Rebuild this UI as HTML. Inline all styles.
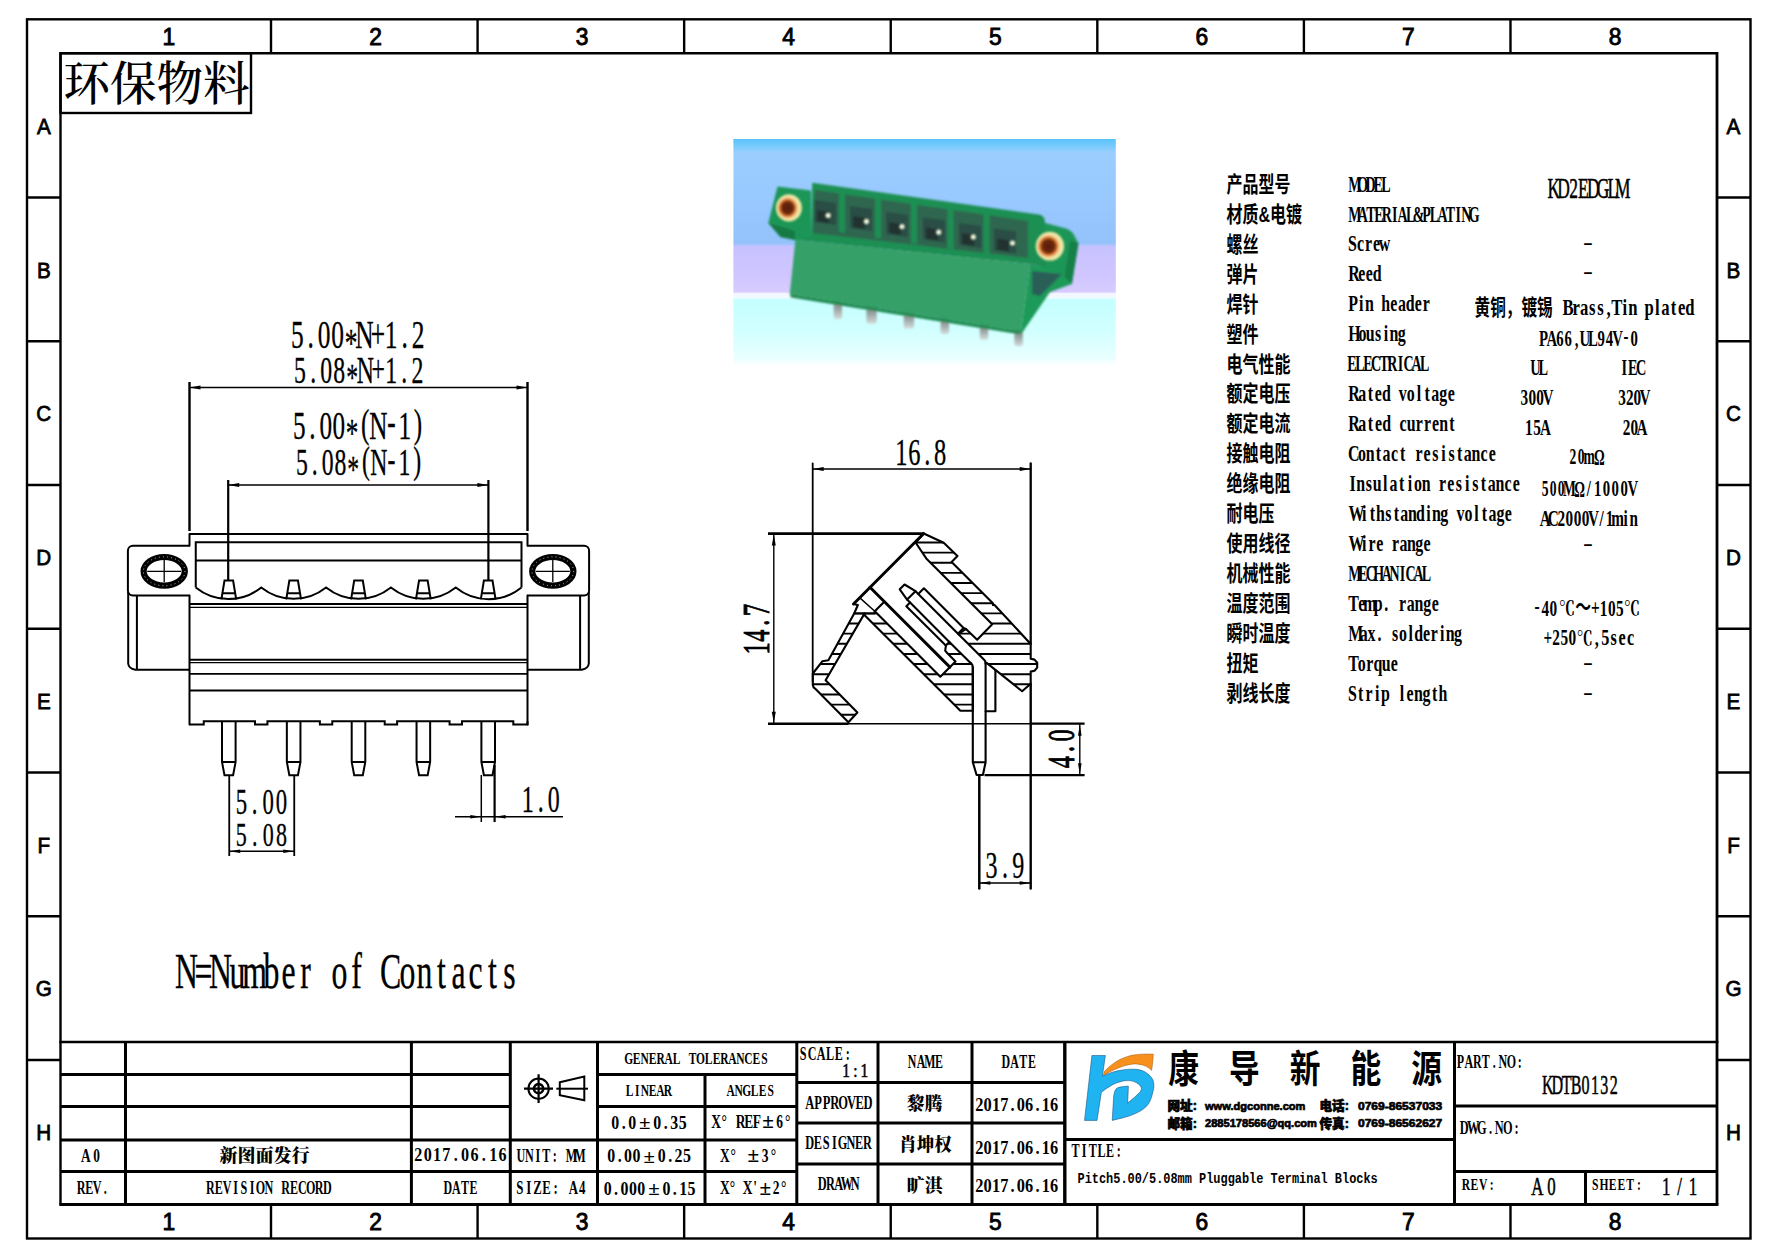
<!DOCTYPE html>
<html lang="zh"><head><meta charset="utf-8"><title>KDTB0132 KD2EDGLM</title>
<style>
html,body{margin:0;padding:0;background:#fff;}
body{width:1778px;height:1257px;overflow:hidden;}
svg{display:block;}
text{white-space:pre;}
</style></head><body>
<svg width="1778" height="1257" viewBox="0 0 1778 1257">
<rect x="0" y="0" width="1778" height="1257" fill="#fff"/>
<g id="frame">
<rect x="27" y="19.3" width="1723.5" height="1219.2" fill="none" stroke="#000" stroke-width="2.4"/>
<line x1="60.50" y1="53.20" x2="1717.00" y2="53.20" stroke="#000" stroke-width="2.6" />
<line x1="60.50" y1="52.00" x2="60.50" y2="1204.50" stroke="#000" stroke-width="2.4" />
<line x1="1717.00" y1="52.00" x2="1717.00" y2="1204.50" stroke="#000" stroke-width="2.8" />
<line x1="59.30" y1="1204.50" x2="1718.40" y2="1204.50" stroke="#000" stroke-width="3" />
<line x1="271.00" y1="19.30" x2="271.00" y2="53.20" stroke="#000" stroke-width="2.4" />
<line x1="271.00" y1="1204.50" x2="271.00" y2="1238.50" stroke="#000" stroke-width="2.4" />
<line x1="477.58" y1="19.30" x2="477.58" y2="53.20" stroke="#000" stroke-width="2.4" />
<line x1="477.58" y1="1204.50" x2="477.58" y2="1238.50" stroke="#000" stroke-width="2.4" />
<line x1="684.16" y1="19.30" x2="684.16" y2="53.20" stroke="#000" stroke-width="2.4" />
<line x1="684.16" y1="1204.50" x2="684.16" y2="1238.50" stroke="#000" stroke-width="2.4" />
<line x1="890.74" y1="19.30" x2="890.74" y2="53.20" stroke="#000" stroke-width="2.4" />
<line x1="890.74" y1="1204.50" x2="890.74" y2="1238.50" stroke="#000" stroke-width="2.4" />
<line x1="1097.32" y1="19.30" x2="1097.32" y2="53.20" stroke="#000" stroke-width="2.4" />
<line x1="1097.32" y1="1204.50" x2="1097.32" y2="1238.50" stroke="#000" stroke-width="2.4" />
<line x1="1303.90" y1="19.30" x2="1303.90" y2="53.20" stroke="#000" stroke-width="2.4" />
<line x1="1303.90" y1="1204.50" x2="1303.90" y2="1238.50" stroke="#000" stroke-width="2.4" />
<line x1="1510.48" y1="19.30" x2="1510.48" y2="53.20" stroke="#000" stroke-width="2.4" />
<line x1="1510.48" y1="1204.50" x2="1510.48" y2="1238.50" stroke="#000" stroke-width="2.4" />
<line x1="27.00" y1="197.50" x2="60.50" y2="197.50" stroke="#000" stroke-width="2.4" />
<line x1="1717.00" y1="197.50" x2="1750.50" y2="197.50" stroke="#000" stroke-width="2.4" />
<line x1="27.00" y1="341.25" x2="60.50" y2="341.25" stroke="#000" stroke-width="2.4" />
<line x1="1717.00" y1="341.25" x2="1750.50" y2="341.25" stroke="#000" stroke-width="2.4" />
<line x1="27.00" y1="485.00" x2="60.50" y2="485.00" stroke="#000" stroke-width="2.4" />
<line x1="1717.00" y1="485.00" x2="1750.50" y2="485.00" stroke="#000" stroke-width="2.4" />
<line x1="27.00" y1="628.75" x2="60.50" y2="628.75" stroke="#000" stroke-width="2.4" />
<line x1="1717.00" y1="628.75" x2="1750.50" y2="628.75" stroke="#000" stroke-width="2.4" />
<line x1="27.00" y1="772.50" x2="60.50" y2="772.50" stroke="#000" stroke-width="2.4" />
<line x1="1717.00" y1="772.50" x2="1750.50" y2="772.50" stroke="#000" stroke-width="2.4" />
<line x1="27.00" y1="916.25" x2="60.50" y2="916.25" stroke="#000" stroke-width="2.4" />
<line x1="1717.00" y1="916.25" x2="1750.50" y2="916.25" stroke="#000" stroke-width="2.4" />
<line x1="27.00" y1="1060.00" x2="60.50" y2="1060.00" stroke="#000" stroke-width="2.4" />
<line x1="1717.00" y1="1060.00" x2="1750.50" y2="1060.00" stroke="#000" stroke-width="2.4" />
<text transform="translate(168.92,45.20) scale(0.9700,1)" font-family='"Liberation Sans", sans-serif' font-size="23.50" font-weight="normal" fill="#000" text-anchor="middle" stroke="#000" stroke-width="0.9">1</text>
<text transform="translate(168.92,1230.20) scale(0.9700,1)" font-family='"Liberation Sans", sans-serif' font-size="23.50" font-weight="normal" fill="#000" text-anchor="middle" stroke="#000" stroke-width="0.9">1</text>
<text transform="translate(375.50,45.20) scale(0.9700,1)" font-family='"Liberation Sans", sans-serif' font-size="23.50" font-weight="normal" fill="#000" text-anchor="middle" stroke="#000" stroke-width="0.9">2</text>
<text transform="translate(375.50,1230.20) scale(0.9700,1)" font-family='"Liberation Sans", sans-serif' font-size="23.50" font-weight="normal" fill="#000" text-anchor="middle" stroke="#000" stroke-width="0.9">2</text>
<text transform="translate(582.08,45.20) scale(0.9700,1)" font-family='"Liberation Sans", sans-serif' font-size="23.50" font-weight="normal" fill="#000" text-anchor="middle" stroke="#000" stroke-width="0.9">3</text>
<text transform="translate(582.08,1230.20) scale(0.9700,1)" font-family='"Liberation Sans", sans-serif' font-size="23.50" font-weight="normal" fill="#000" text-anchor="middle" stroke="#000" stroke-width="0.9">3</text>
<text transform="translate(788.66,45.20) scale(0.9700,1)" font-family='"Liberation Sans", sans-serif' font-size="23.50" font-weight="normal" fill="#000" text-anchor="middle" stroke="#000" stroke-width="0.9">4</text>
<text transform="translate(788.66,1230.20) scale(0.9700,1)" font-family='"Liberation Sans", sans-serif' font-size="23.50" font-weight="normal" fill="#000" text-anchor="middle" stroke="#000" stroke-width="0.9">4</text>
<text transform="translate(995.24,45.20) scale(0.9700,1)" font-family='"Liberation Sans", sans-serif' font-size="23.50" font-weight="normal" fill="#000" text-anchor="middle" stroke="#000" stroke-width="0.9">5</text>
<text transform="translate(995.24,1230.20) scale(0.9700,1)" font-family='"Liberation Sans", sans-serif' font-size="23.50" font-weight="normal" fill="#000" text-anchor="middle" stroke="#000" stroke-width="0.9">5</text>
<text transform="translate(1201.82,45.20) scale(0.9700,1)" font-family='"Liberation Sans", sans-serif' font-size="23.50" font-weight="normal" fill="#000" text-anchor="middle" stroke="#000" stroke-width="0.9">6</text>
<text transform="translate(1201.82,1230.20) scale(0.9700,1)" font-family='"Liberation Sans", sans-serif' font-size="23.50" font-weight="normal" fill="#000" text-anchor="middle" stroke="#000" stroke-width="0.9">6</text>
<text transform="translate(1408.40,45.20) scale(0.9700,1)" font-family='"Liberation Sans", sans-serif' font-size="23.50" font-weight="normal" fill="#000" text-anchor="middle" stroke="#000" stroke-width="0.9">7</text>
<text transform="translate(1408.40,1230.20) scale(0.9700,1)" font-family='"Liberation Sans", sans-serif' font-size="23.50" font-weight="normal" fill="#000" text-anchor="middle" stroke="#000" stroke-width="0.9">7</text>
<text transform="translate(1614.98,45.20) scale(0.9700,1)" font-family='"Liberation Sans", sans-serif' font-size="23.50" font-weight="normal" fill="#000" text-anchor="middle" stroke="#000" stroke-width="0.9">8</text>
<text transform="translate(1614.98,1230.20) scale(0.9700,1)" font-family='"Liberation Sans", sans-serif' font-size="23.50" font-weight="normal" fill="#000" text-anchor="middle" stroke="#000" stroke-width="0.9">8</text>
<text transform="translate(43.80,133.85) scale(0.9200,1)" font-family='"Liberation Sans", sans-serif' font-size="22.50" font-weight="normal" fill="#000" text-anchor="middle" stroke="#000" stroke-width="0.8">A</text>
<text transform="translate(1733.50,133.85) scale(0.9200,1)" font-family='"Liberation Sans", sans-serif' font-size="22.50" font-weight="normal" fill="#000" text-anchor="middle" stroke="#000" stroke-width="0.8">A</text>
<text transform="translate(43.80,277.60) scale(0.9200,1)" font-family='"Liberation Sans", sans-serif' font-size="22.50" font-weight="normal" fill="#000" text-anchor="middle" stroke="#000" stroke-width="0.8">B</text>
<text transform="translate(1733.50,277.60) scale(0.9200,1)" font-family='"Liberation Sans", sans-serif' font-size="22.50" font-weight="normal" fill="#000" text-anchor="middle" stroke="#000" stroke-width="0.8">B</text>
<text transform="translate(43.80,421.35) scale(0.9200,1)" font-family='"Liberation Sans", sans-serif' font-size="22.50" font-weight="normal" fill="#000" text-anchor="middle" stroke="#000" stroke-width="0.8">C</text>
<text transform="translate(1733.50,421.35) scale(0.9200,1)" font-family='"Liberation Sans", sans-serif' font-size="22.50" font-weight="normal" fill="#000" text-anchor="middle" stroke="#000" stroke-width="0.8">C</text>
<text transform="translate(43.80,565.10) scale(0.9200,1)" font-family='"Liberation Sans", sans-serif' font-size="22.50" font-weight="normal" fill="#000" text-anchor="middle" stroke="#000" stroke-width="0.8">D</text>
<text transform="translate(1733.50,565.10) scale(0.9200,1)" font-family='"Liberation Sans", sans-serif' font-size="22.50" font-weight="normal" fill="#000" text-anchor="middle" stroke="#000" stroke-width="0.8">D</text>
<text transform="translate(43.80,708.85) scale(0.9200,1)" font-family='"Liberation Sans", sans-serif' font-size="22.50" font-weight="normal" fill="#000" text-anchor="middle" stroke="#000" stroke-width="0.8">E</text>
<text transform="translate(1733.50,708.85) scale(0.9200,1)" font-family='"Liberation Sans", sans-serif' font-size="22.50" font-weight="normal" fill="#000" text-anchor="middle" stroke="#000" stroke-width="0.8">E</text>
<text transform="translate(43.80,852.60) scale(0.9200,1)" font-family='"Liberation Sans", sans-serif' font-size="22.50" font-weight="normal" fill="#000" text-anchor="middle" stroke="#000" stroke-width="0.8">F</text>
<text transform="translate(1733.50,852.60) scale(0.9200,1)" font-family='"Liberation Sans", sans-serif' font-size="22.50" font-weight="normal" fill="#000" text-anchor="middle" stroke="#000" stroke-width="0.8">F</text>
<text transform="translate(43.80,996.35) scale(0.9200,1)" font-family='"Liberation Sans", sans-serif' font-size="22.50" font-weight="normal" fill="#000" text-anchor="middle" stroke="#000" stroke-width="0.8">G</text>
<text transform="translate(1733.50,996.35) scale(0.9200,1)" font-family='"Liberation Sans", sans-serif' font-size="22.50" font-weight="normal" fill="#000" text-anchor="middle" stroke="#000" stroke-width="0.8">G</text>
<text transform="translate(43.80,1140.10) scale(0.9200,1)" font-family='"Liberation Sans", sans-serif' font-size="22.50" font-weight="normal" fill="#000" text-anchor="middle" stroke="#000" stroke-width="0.8">H</text>
<text transform="translate(1733.50,1140.10) scale(0.9200,1)" font-family='"Liberation Sans", sans-serif' font-size="22.50" font-weight="normal" fill="#000" text-anchor="middle" stroke="#000" stroke-width="0.8">H</text>
</g>
<rect x="60.5" y="53.2" width="190.5" height="59.8" fill="none" stroke="#000" stroke-width="2.4"/>
<text transform="translate(63.50,99.50) scale(1.0000,1)" font-family='"Liberation Serif", "Noto Serif CJK SC", serif' font-size="46.50" font-weight="500" fill="#000" text-anchor="start" >环保物料</text>
<g id="titleblock">
<line x1="59.30" y1="1042.00" x2="1718.40" y2="1042.00" stroke="#000" stroke-width="2.6" />
<line x1="60.50" y1="1074.50" x2="510.30" y2="1074.50" stroke="#000" stroke-width="3" />
<line x1="597.50" y1="1074.50" x2="797.00" y2="1074.50" stroke="#000" stroke-width="3" />
<line x1="60.50" y1="1106.50" x2="510.30" y2="1106.50" stroke="#000" stroke-width="3" />
<line x1="597.50" y1="1106.50" x2="797.00" y2="1106.50" stroke="#000" stroke-width="3" />
<line x1="60.50" y1="1140.00" x2="797.00" y2="1140.00" stroke="#000" stroke-width="3" />
<line x1="60.50" y1="1171.50" x2="797.00" y2="1171.50" stroke="#000" stroke-width="3" />
<line x1="125.50" y1="1042.00" x2="125.50" y2="1204.50" stroke="#000" stroke-width="3" />
<line x1="411.40" y1="1042.00" x2="411.40" y2="1204.50" stroke="#000" stroke-width="3" />
<line x1="510.30" y1="1042.00" x2="510.30" y2="1204.50" stroke="#000" stroke-width="3" />
<line x1="597.50" y1="1042.00" x2="597.50" y2="1204.50" stroke="#000" stroke-width="3" />
<line x1="705.00" y1="1074.50" x2="705.00" y2="1204.50" stroke="#000" stroke-width="3" />
<line x1="796.80" y1="1042.00" x2="796.80" y2="1204.50" stroke="#000" stroke-width="3" />
<line x1="878.00" y1="1042.00" x2="878.00" y2="1204.50" stroke="#000" stroke-width="3" />
<line x1="972.00" y1="1042.00" x2="972.00" y2="1204.50" stroke="#000" stroke-width="3" />
<line x1="1064.80" y1="1042.00" x2="1064.80" y2="1204.50" stroke="#000" stroke-width="3.4" />
<line x1="1454.50" y1="1042.00" x2="1454.50" y2="1204.50" stroke="#000" stroke-width="3" />
<line x1="1585.50" y1="1171.50" x2="1585.50" y2="1204.50" stroke="#000" stroke-width="3" />
<line x1="796.80" y1="1082.50" x2="1064.80" y2="1082.50" stroke="#000" stroke-width="3" />
<line x1="796.80" y1="1123.00" x2="1064.80" y2="1123.00" stroke="#000" stroke-width="3" />
<line x1="796.80" y1="1164.00" x2="1064.80" y2="1164.00" stroke="#000" stroke-width="3" />
<line x1="1064.80" y1="1139.50" x2="1454.50" y2="1139.50" stroke="#000" stroke-width="3" />
<line x1="1454.50" y1="1106.00" x2="1717.00" y2="1106.00" stroke="#000" stroke-width="3" />
<line x1="1454.50" y1="1171.50" x2="1717.00" y2="1171.50" stroke="#000" stroke-width="3" />
</g>
<g id="tbtext">
<text transform="scale(0.7,1)" x="122.78 138.10" y="1161.80" text-anchor="middle" font-family='"Liberation Serif", serif' font-size="19.08" font-weight="bold" fill="#000">A0</text>
<text transform="scale(0.66,1)" x="122.97 135.15 147.32 159.50" y="1194.30" text-anchor="middle" font-family='"Liberation Serif", serif' font-size="18.32" font-weight="bold" fill="#000">REV.</text>
<text transform="scale(0.66,1)" x="318.80 331.47 344.14 356.81 369.48 382.15 394.82 407.49 420.16 432.83 445.50 458.17 470.83 483.50 496.17" y="1194.30" text-anchor="middle" font-family='"Liberation Serif", serif' font-size="18.32" font-weight="bold" fill="#000">REVISION RECORD</text>
<text transform="translate(219.50,1162.20) scale(0.9700,1)" font-family='"Liberation Serif", "Noto Serif CJK SC", serif' font-size="18.60" font-weight="900" fill="#000" text-anchor="start" >新图面发行</text>
<text transform="scale(0.84,1)" x="498.05 509.18 520.32 531.45 542.58 553.72 564.85 575.99 587.12 598.25" y="1161.30" text-anchor="middle" font-family='"Liberation Serif", serif' font-size="19.24" font-weight="bold" fill="#000">2017.06.16</text>
<text transform="scale(0.66,1)" x="678.46 691.47 704.48 717.49" y="1193.80" text-anchor="middle" font-family='"Liberation Serif", serif' font-size="18.02" font-weight="bold" fill="#000">DATE</text>
<text transform="scale(0.66,1)" x="789.34 802.11 814.87 827.64 840.40 853.17 865.93 878.70" y="1162.00" text-anchor="middle" font-family='"Liberation Serif", serif' font-size="18.32" font-weight="bold" fill="#000">UNIT: MM</text>
<text transform="scale(0.7,1)" x="742.55 755.31 768.08 780.84 793.61 806.37 819.14 831.90" y="1193.80" text-anchor="middle" font-family='"Liberation Serif", serif' font-size="18.32" font-weight="bold" fill="#000">SIZE: A4</text>
<text transform="scale(0.66,1)" x="952.59 964.68 976.77 988.87 1000.96 1013.05 1025.15 1037.24 1049.33 1061.43 1073.52 1085.61 1097.71 1109.80 1121.89 1133.99 1146.08 1158.17" y="1063.80" text-anchor="middle" font-family='"Liberation Serif", serif' font-size="17.40" font-weight="bold" fill="#000">GENERAL TOLERANCES</text>
<text transform="scale(0.66,1)" x="953.99 965.60 977.21 988.83 1000.44 1012.05" y="1096.30" text-anchor="middle" font-family='"Liberation Serif", serif' font-size="17.40" font-weight="bold" fill="#000">LINEAR</text>
<text transform="scale(0.66,1)" x="1107.02 1119.13 1131.24 1143.35 1155.46 1167.57" y="1096.30" text-anchor="middle" font-family='"Liberation Serif", serif' font-size="17.40" font-weight="bold" fill="#000">ANGLES</text>
<text transform="scale(0.84,1)" x="732.35 742.43 752.51" y="1128.60" text-anchor="middle" font-family='"Liberation Serif", serif' font-size="18.93" font-weight="bold" fill="#000">0.0</text>
<text transform="translate(644.81,1128.90) scale(1.0500,1)" font-family='"Liberation Serif", serif' font-size="19.88" font-weight="bold" fill="#000" text-anchor="middle" >±</text>
<text transform="scale(0.84,1)" x="782.53 792.61 802.69 812.78" y="1128.60" text-anchor="middle" font-family='"Liberation Serif", serif' font-size="18.93" font-weight="bold" fill="#000">0.35</text>
<text transform="scale(0.84,1)" x="727.58 737.64 747.71 757.77" y="1162.30" text-anchor="middle" font-family='"Liberation Serif", serif' font-size="18.93" font-weight="bold" fill="#000">0.00</text>
<text transform="translate(649.20,1162.60) scale(1.0500,1)" font-family='"Liberation Serif", serif' font-size="19.88" font-weight="bold" fill="#000" text-anchor="middle" >±</text>
<text transform="scale(0.84,1)" x="787.74 797.80 807.86 817.92" y="1162.30" text-anchor="middle" font-family='"Liberation Serif", serif' font-size="18.93" font-weight="bold" fill="#000">0.25</text>
<text transform="scale(0.84,1)" x="723.42 733.43 743.44 753.45 763.46" y="1194.80" text-anchor="middle" font-family='"Liberation Serif", serif' font-size="18.93" font-weight="bold" fill="#000">0.000</text>
<text transform="translate(653.92,1195.10) scale(1.0500,1)" font-family='"Liberation Serif", serif' font-size="19.88" font-weight="bold" fill="#000" text-anchor="middle" >±</text>
<text transform="scale(0.84,1)" x="793.30 803.31 813.32 823.33" y="1194.80" text-anchor="middle" font-family='"Liberation Serif", serif' font-size="18.93" font-weight="bold" fill="#000">0.15</text>
<text transform="scale(0.7,1)" x="1023.09 1034.73" y="1127.60" text-anchor="middle" font-family='"Liberation Serif", serif' font-size="19.24" font-weight="bold" fill="#000">X°</text>
<text transform="scale(0.7,1)" x="1058.05 1069.69 1081.33" y="1127.60" text-anchor="middle" font-family='"Liberation Serif", serif' font-size="19.24" font-weight="bold" fill="#000">REF</text>
<text transform="translate(767.95,1127.90) scale(1.0500,1)" font-family='"Liberation Serif", serif' font-size="20.20" font-weight="bold" fill="#000" text-anchor="middle" >±</text>
<text transform="scale(0.7,1)" x="1113.80 1125.44" y="1127.60" text-anchor="middle" font-family='"Liberation Serif", serif' font-size="19.24" font-weight="bold" fill="#000">6°</text>
<text transform="scale(0.7,1)" x="1035.55 1047.55" y="1162.00" text-anchor="middle" font-family='"Liberation Serif", serif' font-size="19.24" font-weight="bold" fill="#000">X°</text>
<text transform="translate(753.20,1162.30) scale(1.0500,1)" font-family='"Liberation Serif", serif' font-size="20.20" font-weight="bold" fill="#000" text-anchor="middle" >±</text>
<text transform="scale(0.7,1)" x="1093.05 1105.05" y="1162.00" text-anchor="middle" font-family='"Liberation Serif", serif' font-size="19.24" font-weight="bold" fill="#000">3°</text>
<text transform="scale(0.7,1)" x="1035.46 1046.31" y="1194.50" text-anchor="middle" font-family='"Liberation Serif", serif' font-size="19.24" font-weight="bold" fill="#000">X°</text>
<text transform="scale(0.7,1)" x="1068.03 1078.89" y="1194.50" text-anchor="middle" font-family='"Liberation Serif", serif' font-size="19.24" font-weight="bold" fill="#000">X'</text>
<text transform="translate(765.20,1194.80) scale(1.0500,1)" font-family='"Liberation Serif", serif' font-size="20.20" font-weight="bold" fill="#000" text-anchor="middle" >±</text>
<text transform="scale(0.7,1)" x="1108.87 1119.73" y="1194.50" text-anchor="middle" font-family='"Liberation Serif", serif' font-size="19.24" font-weight="bold" fill="#000">2°</text>
<g stroke="#000" fill="none" stroke-width="2">
<circle cx="538.6" cy="1088.7" r="10.2"/><circle cx="538.6" cy="1088.7" r="4.6" stroke-width="2.6"/>
<path d="M524,1088.7 H553 M538.6,1074.3 V1103.1" stroke-width="2.2"/>
<path d="M559.8,1082.2 L584.3,1076.6 V1100.2 L559.8,1095.3 Z" stroke-width="2"/>
<path d="M556.3,1088.7 H588" stroke-width="2"/>
</g>
<text transform="scale(0.66,1)" x="1217.00 1230.50 1244.00 1257.50 1271.00 1284.50" y="1060.00" text-anchor="middle" font-family='"Liberation Serif", serif' font-size="18.32" font-weight="bold" fill="#000">SCALE:</text>
<text transform="scale(0.84,1)" x="1007.37 1018.26 1029.14" y="1077.40" text-anchor="middle" font-family='"Liberation Serif", serif' font-size="18.32" font-weight="normal" fill="#000" stroke="#000" stroke-width="0.55">1:1</text>
<text transform="scale(0.66,1)" x="1381.77 1395.39 1409.02 1422.64" y="1068.00" text-anchor="middle" font-family='"Liberation Serif", serif' font-size="18.02" font-weight="bold" fill="#000">NAME</text>
<text transform="scale(0.66,1)" x="1523.92 1537.08 1550.24 1563.40" y="1068.00" text-anchor="middle" font-family='"Liberation Serif", serif' font-size="18.02" font-weight="bold" fill="#000">DATE</text>
<text transform="scale(0.66,1)" x="1227.11 1239.68 1252.26 1264.84 1277.42 1289.99 1302.57 1315.15" y="1109.40" text-anchor="middle" font-family='"Liberation Serif", serif' font-size="18.93" font-weight="bold" fill="#000">APPROVED</text>
<text transform="scale(0.66,1)" x="1226.85 1239.33 1251.80 1264.27 1276.75 1289.22 1301.70 1314.17" y="1149.40" text-anchor="middle" font-family='"Liberation Serif", serif' font-size="18.63" font-weight="bold" fill="#000">DESIGNER</text>
<text transform="scale(0.66,1)" x="1245.79 1258.25 1270.72 1283.18 1295.64" y="1189.80" text-anchor="middle" font-family='"Liberation Serif", serif' font-size="18.63" font-weight="bold" fill="#000">DRAWN</text>
<text transform="translate(906.80,1110.00) scale(0.9700,1)" font-family='"Liberation Serif", "Noto Serif CJK SC", serif' font-size="18.40" font-weight="900" fill="#000" text-anchor="start" >黎腾</text>
<text transform="translate(899.30,1150.60) scale(0.9600,1)" font-family='"Liberation Serif", "Noto Serif CJK SC", serif' font-size="18.20" font-weight="900" fill="#000" text-anchor="start" >肖坤权</text>
<text transform="translate(906.80,1191.50) scale(0.9700,1)" font-family='"Liberation Serif", "Noto Serif CJK SC", serif' font-size="18.40" font-weight="900" fill="#000" text-anchor="start" >旷淇</text>
<text transform="scale(0.84,1)" x="1165.97 1175.85 1185.72 1195.60 1205.47 1215.35 1225.23 1235.10 1244.98 1254.85" y="1111.20" text-anchor="middle" font-family='"Liberation Serif", serif' font-size="19.54" font-weight="bold" fill="#000">2017.06.16</text>
<text transform="scale(0.84,1)" x="1165.97 1175.85 1185.72 1195.60 1205.47 1215.35 1225.23 1235.10 1244.98 1254.85" y="1153.60" text-anchor="middle" font-family='"Liberation Serif", serif' font-size="19.54" font-weight="bold" fill="#000">2017.06.16</text>
<text transform="scale(0.84,1)" x="1165.97 1175.85 1185.72 1195.60 1205.47 1215.35 1225.23 1235.10 1244.98 1254.85" y="1191.80" text-anchor="middle" font-family='"Liberation Serif", serif' font-size="19.54" font-weight="bold" fill="#000">2017.06.16</text>
<text transform="scale(0.66,1)" x="1629.61 1642.68 1655.75 1668.81 1681.88 1694.95" y="1157.40" text-anchor="middle" font-family='"Liberation Serif", serif' font-size="18.32" font-weight="bold" fill="#000">TITLE:</text>
<text transform="translate(1077.5,1182.7) scale(0.822,1)" font-family='"Liberation Mono", monospace' font-size="14.5" font-weight="bold">Pitch5.00/5.08mm Pluggable Terminal Blocks</text>
<text transform="scale(0.66,1)" x="2212.66 2225.55 2238.43 2251.31 2264.19 2277.08 2289.96 2302.84" y="1068.00" text-anchor="middle" font-family='"Liberation Serif", serif' font-size="18.17" font-weight="bold" fill="#000">PART.NO:</text>
<text transform="scale(0.6,1)" x="2579.71 2595.41 2611.12 2626.82 2642.52 2658.22 2673.93 2689.63" y="1093.70" text-anchor="middle" font-family='"Liberation Serif", serif' font-size="26.72" font-weight="normal" fill="#000" stroke="#000" stroke-width="0.55">KDTB0132</text>
<text transform="scale(0.66,1)" x="2218.67 2231.86 2245.05 2258.24 2271.43 2284.62 2297.81" y="1133.60" text-anchor="middle" font-family='"Liberation Serif", serif' font-size="18.63" font-weight="bold" fill="#000">DWG.NO:</text>
<text transform="scale(0.66,1)" x="2221.04 2234.08 2247.12 2260.16" y="1189.80" text-anchor="middle" font-family='"Liberation Serif", serif' font-size="17.56" font-weight="bold" fill="#000">REV:</text>
<text transform="scale(0.66,1)" x="2329.11 2350.66" y="1195.30" text-anchor="middle" font-family='"Liberation Serif", serif' font-size="25.50" font-weight="normal" fill="#000" stroke="#000" stroke-width="0.55">A0</text>
<text transform="scale(0.66,1)" x="2416.83 2430.13 2443.43 2456.74 2470.04 2483.34" y="1189.80" text-anchor="middle" font-family='"Liberation Serif", serif' font-size="17.56" font-weight="bold" fill="#000">SHEET:</text>
<text transform="scale(0.66,1)" x="2524.74 2544.87 2565.01" y="1195.30" text-anchor="middle" font-family='"Liberation Serif", serif' font-size="25.50" font-weight="normal" fill="#000" stroke="#000" stroke-width="0.55">1/1</text>
</g>
<g id="spec">
<text transform="translate(1226.60,191.90) scale(0.7400,1)" font-family='"Liberation Sans", "Noto Sans CJK SC", sans-serif' font-size="21.60" font-weight="bold" fill="#000" text-anchor="start" >产品型号</text>
<text transform="scale(0.58,1)" x="2336.14 2349.53 2362.92 2376.31 2389.69" y="191.60" text-anchor="middle" font-family='"Liberation Serif", serif' font-size="24.12" font-weight="bold" fill="#000">MODEL</text>
<text transform="translate(1226.60,221.84) scale(0.7400,1)" font-family='"Liberation Sans", "Noto Sans CJK SC", sans-serif' font-size="21.60" font-weight="bold" fill="#000" text-anchor="start" >材质&amp;电镀</text>
<text transform="scale(0.58,1)" x="2336.14 2349.85 2363.56 2377.27 2390.98 2404.69 2418.40 2432.11 2445.82 2459.53 2473.24 2486.95 2500.67 2514.38 2528.09 2541.80" y="221.54" text-anchor="middle" font-family='"Liberation Serif", serif' font-size="24.12" font-weight="bold" fill="#000">MATERIAL&amp;PLATING</text>
<text transform="translate(1226.60,251.78) scale(0.7400,1)" font-family='"Liberation Sans", "Noto Sans CJK SC", sans-serif' font-size="21.60" font-weight="bold" fill="#000" text-anchor="start" >螺丝</text>
<text transform="scale(0.66,1)" x="2049.21 2061.32 2073.42 2085.53 2097.63" y="251.48" text-anchor="middle" font-family='"Liberation Serif", serif' font-size="24.12" font-weight="bold" fill="#000">Screw</text>
<text transform="translate(1226.60,281.72) scale(0.7400,1)" font-family='"Liberation Sans", "Noto Sans CJK SC", sans-serif' font-size="21.60" font-weight="bold" fill="#000" text-anchor="start" >弹片</text>
<text transform="scale(0.66,1)" x="2051.63 2063.23 2074.84 2086.44" y="281.42" text-anchor="middle" font-family='"Liberation Serif", serif' font-size="24.12" font-weight="bold" fill="#000">Reed</text>
<text transform="translate(1226.60,311.66) scale(0.7400,1)" font-family='"Liberation Sans", "Noto Sans CJK SC", sans-serif' font-size="21.60" font-weight="bold" fill="#000" text-anchor="start" >焊针</text>
<text transform="scale(0.66,1)" x="2050.29 2062.61 2074.94 2087.27 2099.59 2111.92 2124.25 2136.57 2148.90 2161.23" y="311.36" text-anchor="middle" font-family='"Liberation Serif", serif' font-size="24.12" font-weight="bold" fill="#000">Pin header</text>
<text transform="translate(1226.60,341.60) scale(0.7400,1)" font-family='"Liberation Sans", "Noto Sans CJK SC", sans-serif' font-size="21.60" font-weight="bold" fill="#000" text-anchor="start" >塑件</text>
<text transform="scale(0.66,1)" x="2052.30 2064.24 2076.17 2088.10 2100.04 2111.97 2123.90" y="341.30" text-anchor="middle" font-family='"Liberation Serif", serif' font-size="24.12" font-weight="bold" fill="#000">Housing</text>
<text transform="translate(1226.60,371.54) scale(0.7400,1)" font-family='"Liberation Sans", "Noto Sans CJK SC", sans-serif' font-size="21.60" font-weight="bold" fill="#000" text-anchor="start" >电气性能</text>
<text transform="scale(0.58,1)" x="2330.74 2344.68 2358.63 2372.57 2386.52 2400.46 2414.41 2428.35 2442.30 2456.24" y="371.24" text-anchor="middle" font-family='"Liberation Serif", serif' font-size="24.12" font-weight="bold" fill="#000">ELECTRICAL</text>
<text transform="translate(1226.60,401.48) scale(0.7400,1)" font-family='"Liberation Sans", "Noto Sans CJK SC", sans-serif' font-size="21.60" font-weight="bold" fill="#000" text-anchor="start" >额定电压</text>
<text transform="scale(0.66,1)" x="2051.63 2063.92 2076.20 2088.49 2100.77 2113.06 2125.35 2137.63 2149.92 2162.20 2174.49 2186.77 2199.06" y="401.18" text-anchor="middle" font-family='"Liberation Serif", serif' font-size="24.12" font-weight="bold" fill="#000">Rated voltage</text>
<text transform="translate(1226.60,431.42) scale(0.7400,1)" font-family='"Liberation Sans", "Noto Sans CJK SC", sans-serif' font-size="21.60" font-weight="bold" fill="#000" text-anchor="start" >额定电流</text>
<text transform="scale(0.66,1)" x="2051.63 2063.99 2076.34 2088.69 2101.05 2113.40 2125.75 2138.11 2150.46 2162.82 2175.17 2187.52 2199.88" y="431.12" text-anchor="middle" font-family='"Liberation Serif", serif' font-size="24.12" font-weight="bold" fill="#000">Rated current</text>
<text transform="translate(1226.60,461.36) scale(0.7400,1)" font-family='"Liberation Sans", "Noto Sans CJK SC", sans-serif' font-size="21.60" font-weight="bold" fill="#000" text-anchor="start" >接触电阻</text>
<text transform="scale(0.66,1)" x="2051.32 2063.66 2075.99 2088.33 2100.66 2113.00 2125.33 2137.67 2150.01 2162.34 2174.68 2187.01 2199.35 2211.69 2224.02 2236.36 2248.69 2261.03" y="461.06" text-anchor="middle" font-family='"Liberation Serif", serif' font-size="24.12" font-weight="bold" fill="#000">Contact resistance</text>
<text transform="translate(1226.60,491.30) scale(0.7400,1)" font-family='"Liberation Sans", "Noto Sans CJK SC", sans-serif' font-size="21.60" font-weight="bold" fill="#000" text-anchor="start" >绝缘电阻</text>
<text transform="scale(0.66,1)" x="2049.34 2061.74 2074.14 2086.54 2098.95 2111.35 2123.75 2136.16 2148.56 2160.96 2173.36 2185.77 2198.17 2210.57 2222.98 2235.38 2247.78 2260.18 2272.59 2284.99 2297.39" y="491.00" text-anchor="middle" font-family='"Liberation Serif", serif' font-size="24.12" font-weight="bold" fill="#000">Insulation resistance</text>
<text transform="translate(1226.60,521.24) scale(0.7400,1)" font-family='"Liberation Sans", "Noto Sans CJK SC", sans-serif' font-size="21.60" font-weight="bold" fill="#000" text-anchor="start" >耐电压</text>
<text transform="scale(0.66,1)" x="2055.05 2067.18 2079.30 2091.43 2103.55 2115.68 2127.80 2139.93 2152.05 2164.18 2176.30 2188.42 2200.55 2212.67 2224.80 2236.92 2249.05 2261.17 2273.30 2285.42" y="520.94" text-anchor="middle" font-family='"Liberation Serif", serif' font-size="24.12" font-weight="bold" fill="#000">Withstanding voltage</text>
<text transform="translate(1226.60,551.18) scale(0.7400,1)" font-family='"Liberation Sans", "Noto Sans CJK SC", sans-serif' font-size="21.60" font-weight="bold" fill="#000" text-anchor="start" >使用线径</text>
<text transform="scale(0.66,1)" x="2055.05 2066.96 2078.87 2090.78 2102.69 2114.60 2126.51 2138.42 2150.33 2162.24" y="550.88" text-anchor="middle" font-family='"Liberation Serif", serif' font-size="24.12" font-weight="bold" fill="#000">Wire range</text>
<text transform="translate(1226.60,581.12) scale(0.7400,1)" font-family='"Liberation Sans", "Noto Sans CJK SC", sans-serif' font-size="21.60" font-weight="bold" fill="#000" text-anchor="start" >机械性能</text>
<text transform="scale(0.58,1)" x="2336.14 2349.83 2363.52 2377.21 2390.90 2404.59 2418.28 2431.97 2445.66 2459.35" y="580.82" text-anchor="middle" font-family='"Liberation Serif", serif' font-size="24.12" font-weight="bold" fill="#000">MECHANICAL</text>
<text transform="translate(1226.60,611.06) scale(0.7400,1)" font-family='"Liberation Sans", "Noto Sans CJK SC", sans-serif' font-size="21.60" font-weight="bold" fill="#000" text-anchor="start" >温度范围</text>
<text transform="scale(0.66,1)" x="2051.00 2063.37 2075.73 2088.10 2100.47 2112.83 2125.20 2137.57 2149.93 2162.30 2174.66" y="610.76" text-anchor="middle" font-family='"Liberation Serif", serif' font-size="24.12" font-weight="bold" fill="#000">Temp. range</text>
<text transform="translate(1226.60,641.00) scale(0.7400,1)" font-family='"Liberation Sans", "Noto Sans CJK SC", sans-serif' font-size="21.60" font-weight="bold" fill="#000" text-anchor="start" >瞬时温度</text>
<text transform="scale(0.66,1)" x="2054.30 2066.21 2078.11 2090.02 2101.92 2113.82 2125.73 2137.63 2149.53 2161.44 2173.34 2185.25 2197.15 2209.05" y="640.70" text-anchor="middle" font-family='"Liberation Serif", serif' font-size="24.12" font-weight="bold" fill="#000">Max. soldering</text>
<text transform="translate(1226.60,670.94) scale(0.7400,1)" font-family='"Liberation Sans", "Noto Sans CJK SC", sans-serif' font-size="21.60" font-weight="bold" fill="#000" text-anchor="start" >扭矩</text>
<text transform="scale(0.66,1)" x="2051.00 2063.31 2075.62 2087.93 2100.24 2112.54" y="670.64" text-anchor="middle" font-family='"Liberation Serif", serif' font-size="24.12" font-weight="bold" fill="#000">Torque</text>
<text transform="translate(1226.60,700.88) scale(0.7400,1)" font-family='"Liberation Sans", "Noto Sans CJK SC", sans-serif' font-size="21.60" font-weight="bold" fill="#000" text-anchor="start" >剥线长度</text>
<text transform="scale(0.66,1)" x="2049.21 2061.68 2074.15 2086.62 2099.09 2111.56 2124.03 2136.50 2148.97 2161.44 2173.91 2186.38" y="700.58" text-anchor="middle" font-family='"Liberation Serif", serif' font-size="24.12" font-weight="bold" fill="#000">Strip length</text>
<text transform="scale(0.6,1)" x="2589.64 2606.06 2622.49 2638.92 2655.34 2671.77 2688.19 2704.62" y="198.00" text-anchor="middle" font-family='"Liberation Serif", serif' font-size="29.01" font-weight="normal" fill="#000" stroke="#000" stroke-width="0.55">KD2EDGLM</text>
<text transform="translate(1588.00,249.66) scale(1.2500,1)" font-family='"Liberation Serif", serif' font-size="23.80" font-weight="normal" fill="#000" text-anchor="middle" >-</text>
<text transform="translate(1588.00,278.96) scale(1.2500,1)" font-family='"Liberation Serif", serif' font-size="23.80" font-weight="normal" fill="#000" text-anchor="middle" >-</text>
<text transform="translate(1588.00,551.15) scale(1.2500,1)" font-family='"Liberation Serif", serif' font-size="23.80" font-weight="normal" fill="#000" text-anchor="middle" >-</text>
<text transform="translate(1588.00,669.56) scale(1.2500,1)" font-family='"Liberation Serif", serif' font-size="23.80" font-weight="normal" fill="#000" text-anchor="middle" >-</text>
<text transform="translate(1588.00,699.56) scale(1.2500,1)" font-family='"Liberation Serif", serif' font-size="23.80" font-weight="normal" fill="#000" text-anchor="middle" >-</text>
<text transform="translate(1474.60,315.40) scale(0.7300,1)" font-family='"Liberation Sans", "Noto Sans CJK SC", sans-serif' font-size="21.40" font-weight="bold" fill="#000" text-anchor="start" >黄铜，镀锡</text>
<text transform="scale(0.7,1)" x="2239.98 2251.58 2263.19 2274.80 2286.40 2298.01 2309.61 2321.22 2332.83 2344.43 2356.04 2367.65 2379.25 2390.86 2402.47 2414.07" y="315.00" text-anchor="middle" font-family='"Liberation Serif", serif' font-size="23.82" font-weight="bold" fill="#000">Brass,Tin plated</text>
<text transform="scale(0.62,1)" x="2489.61 2502.90 2516.18 2529.47 2542.75 2556.04 2569.33 2582.61 2595.90 2609.19 2622.47 2635.76" y="345.70 345.70 345.70 345.70 345.70 345.70 345.70 345.70 345.70 345.70 343.67 345.70" text-anchor="middle" font-family='"Liberation Serif", serif' font-size="23.82" font-weight="bold" fill="#000">PA66,UL94V-0</text>
<text transform="scale(0.6,1)" x="2558.84 2572.22" y="375.00" text-anchor="middle" font-family='"Liberation Serif", serif' font-size="23.82" font-weight="bold" fill="#000">UL</text>
<text transform="scale(0.6,1)" x="2707.17 2721.19 2735.21" y="375.00" text-anchor="middle" font-family='"Liberation Serif", serif' font-size="23.82" font-weight="bold" fill="#000">IEC</text>
<text transform="scale(0.64,1)" x="2381.93 2394.19 2406.44 2418.70" y="405.00" text-anchor="middle" font-family='"Liberation Serif", serif' font-size="23.82" font-weight="bold" fill="#000">300V</text>
<text transform="scale(0.64,1)" x="2534.43 2546.43 2558.42 2570.42" y="405.00" text-anchor="middle" font-family='"Liberation Serif", serif' font-size="23.82" font-weight="bold" fill="#000">320V</text>
<text transform="scale(0.64,1)" x="2388.58 2401.80 2415.01" y="435.00" text-anchor="middle" font-family='"Liberation Serif", serif' font-size="23.82" font-weight="bold" fill="#000">15A</text>
<text transform="scale(0.64,1)" x="2541.67 2553.73 2565.79" y="435.00" text-anchor="middle" font-family='"Liberation Serif", serif' font-size="23.82" font-weight="bold" fill="#000">20A</text>
<text transform="scale(0.57,1)" x="2759.34 2773.73 2788.11" y="464.50" text-anchor="middle" font-family='"Liberation Serif", serif' font-size="23.82" font-weight="bold" fill="#000">20m</text>
<text transform="translate(1599.22,464.50) scale(0.5600,1)" font-family='"Liberation Serif", serif' font-size="23.82" font-weight="bold" fill="#000" text-anchor="middle" >Ω</text>
<text transform="scale(0.57,1)" x="2710.61 2724.83 2739.04 2753.25" y="496.50" text-anchor="middle" font-family='"Liberation Serif", serif' font-size="23.82" font-weight="bold" fill="#000">500M</text>
<text transform="translate(1579.70,496.50) scale(0.5600,1)" font-family='"Liberation Serif", serif' font-size="23.82" font-weight="bold" fill="#000" text-anchor="middle" >Ω</text>
<text transform="scale(0.62,1)" x="2562.57 2576.81 2591.05 2605.29 2619.53 2633.76" y="496.50" text-anchor="middle" font-family='"Liberation Serif", serif' font-size="23.82" font-weight="bold" fill="#000">/1000V</text>
<text transform="scale(0.64,1)" x="2414.46 2427.04 2439.61 2452.19 2464.77 2477.34 2489.92 2502.49 2515.07 2527.65 2540.22 2552.80" y="526.50" text-anchor="middle" font-family='"Liberation Serif", serif' font-size="23.82" font-weight="bold" fill="#000">AC2000V/1min</text>
<text transform="scale(0.64,1)" x="2401.69 2414.42 2427.14" y="613.67 615.70 615.70" text-anchor="middle" font-family='"Liberation Serif", serif' font-size="23.82" font-weight="bold" fill="#000">-40</text>
<text transform="translate(1566.88,615.40) scale(0.8400,1)" font-family='"Liberation Serif", "Noto Serif CJK SC", serif' font-size="19.05" font-weight="bold" fill="#000" text-anchor="middle" >℃</text>
<text transform="translate(1583.18,614.70) scale(0.7000,1)" font-family='"Liberation Sans", "Noto Sans CJK SC", sans-serif' font-size="22.63" font-weight="bold" fill="#000" text-anchor="middle" >～</text>
<text transform="scale(0.64,1)" x="2492.91 2505.64 2518.37 2531.09" y="615.23 615.70 615.70 615.70" text-anchor="middle" font-family='"Liberation Serif", serif' font-size="23.82" font-weight="bold" fill="#000">+105</text>
<text transform="translate(1632.05,615.40) scale(0.8400,1)" font-family='"Liberation Serif", "Noto Serif CJK SC", serif' font-size="19.05" font-weight="bold" fill="#000" text-anchor="middle" >℃</text>
<text transform="scale(0.64,1)" x="2418.50 2431.30 2444.10 2456.89" y="644.53 645.00 645.00 645.00" text-anchor="middle" font-family='"Liberation Serif", serif' font-size="23.82" font-weight="bold" fill="#000">+250</text>
<text transform="translate(1584.65,644.70) scale(0.8400,1)" font-family='"Liberation Serif", "Noto Serif CJK SC", serif' font-size="19.05" font-weight="bold" fill="#000" text-anchor="middle" >℃</text>
<text transform="scale(0.68,1)" x="2348.32 2360.73 2373.14 2385.55 2397.95" y="645.00" text-anchor="middle" font-family='"Liberation Serif", serif' font-size="23.82" font-weight="bold" fill="#000">,5sec</text>
</g>
<g id="front" fill="none" stroke="#000" stroke-linecap="butt">
<path d="M189.50,545.70 L189.50,533.90 L527.50,533.90 L527.50,545.70" fill="none" stroke="#000" stroke-width="2.0" stroke-linejoin="round" stroke-linecap="round" />
<path d="M189.50,595.40 L189.50,724.50" fill="none" stroke="#000" stroke-width="2.0" stroke-linejoin="round" stroke-linecap="round" />
<path d="M527.50,595.40 L527.50,724.50" fill="none" stroke="#000" stroke-width="2.0" stroke-linejoin="round" stroke-linecap="round" />
<path d="M189.5,724.5 L203.75,724.5 L203.75,721.25 L255.03,721.25 L255.03,724.5 L255.03,724.5 L267.43,724.5 L267.43,721.25 L319.88,721.25 L319.88,724.5 L319.88,724.5 L332.27,724.5 L332.27,721.25 L384.73,721.25 L384.73,724.5 L384.73,724.5 L397.12,724.5 L397.12,721.25 L449.57,721.25 L449.57,724.5 L449.57,724.5 L461.97,724.5 L461.97,721.25 L513.30,721.25 L513.30,724.5 L513.30,724.5 L527.50,724.5 L527.50,721.25" stroke-width="2.0"/>
<path d="M189.5,604.1 H527.5" stroke-width="2.0"/>
<path d="M189.5,607.4 H527.5" stroke-width="1.4"/>
<path d="M189.5,659.8 H527.5" stroke-width="2.0"/>
<path d="M189.5,662.6 H527.5" stroke-width="1.4"/>
<path d="M189.5,673.9 H527.5" stroke-width="1.9"/>
<path d="M189.5,690.5 H527.5" stroke-width="1.9"/>
<path d="M195.75,587.5 V542.25 H521.5 V587.5" stroke-width="2.0"/>
<path d="M195.75,560.6 H521.5" stroke-width="2.0"/>
<path d="M195.75,587.5 A52,52 0 0 0 261.23,587.5 A52,52 0 0 0 326.07,587.5 A52,52 0 0 0 390.93,587.5 A52,52 0 0 0 455.77,587.5 A52,52 0 0 0 521.50,587.5" stroke-width="2.0"/>
<path d="M221.40,599.4 L224.50,580.5 H233.10 L236.20,599.4 M222.40,593.2 H235.20" stroke-width="2.0"/>
<path d="M286.25,599.4 L289.35,580.5 H297.95 L301.05,599.4 M287.25,593.2 H300.05" stroke-width="2.0"/>
<path d="M351.10,599.4 L354.20,580.5 H362.80 L365.90,599.4 M352.10,593.2 H364.90" stroke-width="2.0"/>
<path d="M415.95,599.4 L419.05,580.5 H427.65 L430.75,599.4 M416.95,593.2 H429.75" stroke-width="2.0"/>
<path d="M480.80,599.4 L483.90,580.5 H492.50 L495.60,599.4 M481.80,593.2 H494.60" stroke-width="2.0"/>
<path d="M189.50,545.7 H132.90 A5,5 0 0 0 127.90,550.7 V590.4 A5,5 0 0 0 132.90,595.4 H189.50" stroke-width="2.0"/>
<path d="M128.20,592 V663.5 Q128.60,668.4 135.30,669.8 H189.50 M136.90,595.4 V669.8" stroke-width="2.0"/>
<ellipse cx="164.20" cy="571.3" rx="20.6" ry="14.3" stroke-width="6.2"/>
<ellipse cx="164.20" cy="571.3" rx="20.8" ry="14.5" stroke="#fff" stroke-width="0.8" stroke-dasharray="0.9 3.2"/>
<path d="M147.20,571.3 H181.20 M164.20,560 V582" stroke-width="1.3"/>
<path d="M527.50,545.7 H584.10 A5,5 0 0 1 589.10,550.7 V590.4 A5,5 0 0 1 584.10,595.4 H527.50" stroke-width="2.0"/>
<path d="M588.80,592 V663.5 Q588.40,668.4 581.70,669.8 H527.50 M580.10,595.4 V669.8" stroke-width="2.0"/>
<ellipse cx="552.80" cy="571.3" rx="20.6" ry="14.3" stroke-width="6.2"/>
<ellipse cx="552.80" cy="571.3" rx="20.8" ry="14.5" stroke="#fff" stroke-width="0.8" stroke-dasharray="0.9 3.2"/>
<path d="M535.80,571.3 H569.80 M552.80,560 V582" stroke-width="1.3"/>
<path d="M222.00,721.25 V762 L224.50,775.3 H233.10 L235.60,762 V721.25 M222.00,762 H235.60" stroke-width="2.0"/>
<path d="M286.85,721.25 V762 L289.35,775.3 H297.95 L300.45,762 V721.25 M286.85,762 H300.45" stroke-width="2.0"/>
<path d="M351.70,721.25 V762 L354.20,775.3 H362.80 L365.30,762 V721.25 M351.70,762 H365.30" stroke-width="2.0"/>
<path d="M416.55,721.25 V762 L419.05,775.3 H427.65 L430.15,762 V721.25 M416.55,762 H430.15" stroke-width="2.0"/>
<path d="M481.40,721.25 V762 L483.90,775.3 H492.50 L495.00,762 V721.25 M481.40,762 H495.00" stroke-width="2.0"/>
<path d="M189.5,382 V531 M527.5,382 V531" stroke-width="2.4"/>
<path d="M189.5,387.5 H527.5" stroke-width="1.4"/>
<path d="M228.20,480 V580 M488.40,480 V580" stroke-width="2.2"/>
<path d="M228.20,485 H488.40" stroke-width="1.4"/>
<path d="M229.25,776 V856 M294.25,776 V856" stroke-width="1.8"/>
<path d="M229.25,851.25 H294.25" stroke-width="1.3"/>
<path d="M481.3,775 V822" stroke-width="1.5"/><path d="M494.6,765 V822" stroke-width="2.2"/>
<path d="M455,816.75 H563" stroke-width="1.3"/>
</g>
<path d="M189.50,387.50 L200.50,385.50 L200.50,389.50 Z" fill="#000"/>
<path d="M527.50,387.50 L516.50,389.50 L516.50,385.50 Z" fill="#000"/>
<path d="M228.20,485.00 L239.20,483.00 L239.20,487.00 Z" fill="#000"/>
<path d="M488.40,485.00 L477.40,487.00 L477.40,483.00 Z" fill="#000"/>
<path d="M229.25,851.25 L240.25,849.45 L240.25,853.05 Z" fill="#000"/>
<path d="M294.25,851.25 L283.25,853.05 L283.25,849.45 Z" fill="#000"/>
<path d="M481.30,816.75 L470.30,818.55 L470.30,814.95 Z" fill="#000"/>
<path d="M494.60,816.75 L505.60,814.95 L505.60,818.55 Z" fill="#000"/>
<text transform="scale(0.64,1)" x="464.65 485.60 506.55 527.50 548.45 569.40 590.35 611.30 632.25 653.20" y="348.00 348.00 348.00 348.00 355.80 348.00 347.22 348.00 348.00 348.00" text-anchor="middle" font-family='"Liberation Serif", serif' font-size="39.69" font-weight="normal" fill="#000" stroke="#000" stroke-width="0.35">5.00*N+1.2</text>
<text transform="scale(0.64,1)" x="468.84 489.21 509.57 529.94 550.31 570.68 591.04 611.41 631.78 652.15" y="383.00 383.00 383.00 383.00 390.29 383.00 382.27 383.00 383.00 383.00" text-anchor="middle" font-family='"Liberation Serif", serif' font-size="37.10" font-weight="normal" fill="#000" stroke="#000" stroke-width="0.35">5.08*N+1.2</text>
<text transform="scale(0.64,1)" x="467.70 488.29 508.88 529.46 550.05 570.64 591.23 611.82 632.41 652.99" y="438.75 438.75 438.75 438.75 446.48 436.95 438.75 435.40 438.75 436.95" text-anchor="middle" font-family='"Liberation Serif", serif' font-size="39.31" font-weight="normal" fill="#000" stroke="#000" stroke-width="0.35">5.00*(N-1)</text>
<text transform="scale(0.64,1)" x="471.95 491.92 511.90 531.87 551.84 571.82 591.79 611.76 631.74 651.71" y="475.00 475.00 475.00 475.00 482.27 473.30 475.00 471.85 475.00 473.30" text-anchor="middle" font-family='"Liberation Serif", serif' font-size="37.02" font-weight="normal" fill="#000" stroke="#000" stroke-width="0.35">5.08*(N-1)</text>
<text transform="scale(0.64,1)" x="377.12 398.00 418.87 439.74" y="814.50" text-anchor="middle" font-family='"Liberation Serif", serif' font-size="35.50" font-weight="normal" fill="#000" stroke="#000" stroke-width="0.35">5.00</text>
<text transform="scale(0.64,1)" x="376.90 397.93 418.96 439.99" y="846.25" text-anchor="middle" font-family='"Liberation Serif", serif' font-size="34.35" font-weight="normal" fill="#000" stroke="#000" stroke-width="0.35">5.08</text>
<text transform="scale(0.64,1)" x="824.42 844.77 865.12" y="812.50" text-anchor="middle" font-family='"Liberation Serif", serif' font-size="37.40" font-weight="normal" fill="#000" stroke="#000" stroke-width="0.35">1.0</text>
<text transform="scale(0.64,1)" x="291.49 318.04 344.60 371.15 397.71 424.27 450.82 477.38 503.93 530.49 557.04 583.60 610.15 636.71 663.27 689.82 716.38 742.93 769.49 796.04" y="987.70" text-anchor="middle" font-family='"Liberation Serif", serif' font-size="49.62" font-weight="normal" fill="#000" stroke="#000" stroke-width="0.35">N=Number of Contacts</text>
<defs>
<clipPath id="hc"><polygon points="915.57,542.48 926.25,558.39 992.22,624.36 977.16,639.71 965.98,628.96 960.12,632.85 958.77,634.47 983.38,659.08 984.00,659.60 985.20,661.20 985.60,663.50 986.30,662.60 1022.10,691.20 1029.30,685.00 1030.70,684.00 1030.70,671.60 1034.50,670.80 1037.20,667.60 1037.20,662.80 1034.50,659.60 1030.70,658.80 1030.70,644.00 994.55,604.92 993.00,605.06 992.89,603.19 951.60,561.89 957.46,556.02 943.71,542.76 923.70,533.50"/><polygon points="874.77,611.28 940.32,676.69 955.52,661.49 947.39,653.35 945.20,650.60 945.97,645.29 949.37,641.90 970.58,663.11 970.90,662.90 972.30,664.80 972.80,667.50 972.80,710.80 960.40,710.80 864.16,614.82 864.30,613.40 874.60,613.40"/><polygon points="854.20,613.40 864.60,613.40 825.60,680.20 857.40,712.50 848.40,722.30 815.80,689.30 813.60,687.40 812.80,685.00 812.80,673.50 822.30,661.30 828.40,660.20"/></clipPath>
</defs>
<g id="side" fill="none" stroke="#000" stroke-linejoin="round" stroke-linecap="round">
<path d="M800,542.50H1045M800,552.63H1045M800,562.76H1045M800,572.89H1045M800,583.02H1045M800,593.15H1045M800,603.28H1045M800,613.41H1045M800,623.54H1045M800,633.67H1045M800,643.80H1045M800,653.93H1045M800,664.06H1045M800,674.19H1045M800,684.32H1045M800,694.45H1045M800,704.58H1045M800,714.71H1045M800,724.84H1045" stroke-width="1.9" clip-path="url(#hc)" stroke-linecap="butt"/>
<polygon points="915.57,542.48 926.25,558.39 992.22,624.36 977.16,639.71 965.98,628.96 960.12,632.85 958.77,634.47 983.38,659.08 984.00,659.60 985.20,661.20 985.60,663.50 986.30,662.60 1022.10,691.20 1029.30,685.00 1030.70,684.00 1030.70,671.60 1034.50,670.80 1037.20,667.60 1037.20,662.80 1034.50,659.60 1030.70,658.80 1030.70,644.00 994.55,604.92 993.00,605.06 992.89,603.19 951.60,561.89 957.46,556.02 943.71,542.76 923.70,533.50" stroke-width="2.1"/>
<polygon points="874.77,611.28 940.32,676.69 955.52,661.49 947.39,653.35 945.20,650.60 945.97,645.29 949.37,641.90 970.58,663.11 970.90,662.90 972.30,664.80 972.80,667.50 972.80,710.80 960.40,710.80 864.16,614.82 864.30,613.40 874.60,613.40" stroke-width="2.1"/>
<polygon points="854.20,613.40 864.60,613.40 825.60,680.20 857.40,712.50 848.40,722.30 815.80,689.30 813.60,687.40 812.80,685.00 812.80,673.50 822.30,661.30 828.40,660.20" stroke-width="2.1"/>
<path d="M853.5,603.9 L857.9,605 L855.7,610 L854.2,613.4" stroke-width="2.1"/>
<path d="M923.70,533.50 L853.50,603.90" stroke-width="2.9"/>
<path d="M869.96,587.24 L949.86,667.14" stroke-width="2.9"/>
<path d="M884.03,602.02 L874.77,611.28" stroke-width="2.1"/>
<path d="M860.70,598.62 L874.77,611.28" stroke-width="1.4"/>
<polygon points="904.54,584.48 899.73,589.29 907.08,599.61 915.50,591.20" stroke-width="2.1"/>
<path d="M915.50,591.20 L958.77,634.47" stroke-width="2.1"/>
<path d="M907.08,599.61 L949.37,641.90" stroke-width="2.1"/>
<path d="M918.26,593.96 L923.91,588.30 L963.58,627.97 L965.98,628.96 M963.58,627.97 L957.92,633.63" stroke-width="2.1"/>
<path d="M910.05,602.58 L906.31,606.33 L945.83,645.44" stroke-width="2.1"/>
<path d="M995.4,670.0 V711.2 H985.6" stroke-width="2.1"/>
<path d="M972.8,667 V762.2 L976.6,775 H982.9 L985.6,762.2 V663 M972.8,762.2 H985.6" stroke-width="2.1"/>
<path d="M1030.7,463.4 V644" stroke-width="2.3"/><path d="M1030.7,684 V888.6" stroke-width="2.4"/>
<path d="M812.7,463.4 V681.3" stroke-width="1.8"/>
<path d="M812.7,469 H1030.7" stroke-width="1.4"/>
<path d="M768,533.6 H923.7" stroke-width="2.6" stroke-linecap="butt"/>
<path d="M768,723.7 H848.4" stroke-width="2.4" stroke-linecap="butt"/><path d="M848,723.7 H1030.7" stroke-width="1.4"/>
<path d="M773.8,533.6 V723.7" stroke-width="1.4"/>
<path d="M1030.7,723.7 H1084.6 M984.5,775.2 H1084.6" stroke-width="2.2" stroke-linecap="butt"/>
<path d="M1079.8,723.7 V775.2" stroke-width="1.4"/>
<path d="M979.3,776 V888.6" stroke-width="2.5"/>
<path d="M979.3,883 H1030.7" stroke-width="1.3"/>
</g>
<path d="M812.70,469.00 L823.70,467.00 L823.70,471.00 Z" fill="#000"/>
<path d="M1030.70,469.00 L1019.70,471.00 L1019.70,467.00 Z" fill="#000"/>
<path d="M773.80,534.60 L775.80,545.60 L771.80,545.60 Z" fill="#000"/>
<path d="M773.80,722.70 L771.80,711.70 L775.80,711.70 Z" fill="#000"/>
<path d="M1079.80,724.70 L1081.60,735.70 L1078.00,735.70 Z" fill="#000"/>
<path d="M1079.80,774.20 L1078.00,763.20 L1081.60,763.20 Z" fill="#000"/>
<path d="M979.30,883.00 L990.30,881.20 L990.30,884.80 Z" fill="#000"/>
<path d="M1030.70,883.00 L1019.70,884.80 L1019.70,881.20 Z" fill="#000"/>
<text transform="scale(0.64,1)" x="1408.37 1428.56 1448.75 1468.94" y="464.80" text-anchor="middle" font-family='"Liberation Serif", serif' font-size="38.17" font-weight="normal" fill="#000" stroke="#000" stroke-width="0.35">16.8</text>
<text transform="scale(0.64,1)" x="1549.31 1570.18 1591.06" y="878.20" text-anchor="middle" font-family='"Liberation Serif", serif' font-size="37.56" font-weight="normal" fill="#000" stroke="#000" stroke-width="0.35">3.9</text>
<text transform="translate(769,652.4) rotate(-90) scale(0.64,1)" x="6.19 26.26 46.33 66.40" y="0.00" text-anchor="middle" font-family='"Liberation Serif", serif' font-size="38.17" font-weight="normal" fill="#000" stroke="#000" stroke-width="0.90">14.7</text>
<text transform="translate(1073.5,767.8) rotate(-90) scale(0.64,1)" x="8.80 29.65 50.51" y="0.00" text-anchor="middle" font-family='"Liberation Serif", serif' font-size="38.17" font-weight="normal" fill="#000" stroke="#000" stroke-width="0.90">4.0</text>
<g id="logo">
<path d="M1091.9,1055.5 L1105.4,1055.5 L1102.4,1076.1 C1109,1073 1116,1070.8 1122.3,1070 C1127,1069.2 1131,1069 1135.9,1069.3 C1141,1069.8 1145,1071.3 1148,1074.1 C1151,1076.5 1153,1079 1153.4,1081.5 C1154.2,1085 1154,1089 1152.8,1092.3 C1151.8,1097 1150.5,1101 1148,1104.5 C1145,1108.3 1141,1111 1135.9,1113.3 C1131,1115.5 1127,1116.8 1122.3,1118 L1112.2,1120.4 L1113.5,1099.1 C1113.6,1096 1114,1093 1114.9,1091 C1115.6,1089 1117,1087.8 1118.9,1087.3 C1122,1086.5 1125,1086.3 1128.4,1086.2 L1127.7,1103.1 C1132,1099.7 1136,1096 1139.9,1092.3 L1141.6,1089 C1141.2,1087 1140.2,1085.4 1138.6,1084.2 C1136.5,1082.5 1134,1081.4 1131.1,1080.8 C1128,1080.4 1125,1080.6 1122.3,1081.2 C1118.6,1082 1115.2,1083.3 1112.2,1084.9 C1108.4,1087 1104.8,1089.5 1101.4,1092.3 L1097,1120.4 L1084.5,1120.4 Z" fill="#1fb4f1" stroke="#0d3f73" stroke-width="0.5"/>
<path d="M1104.1,1071.7 C1107.5,1068 1111.3,1064.7 1115.6,1061.9 C1120.8,1058.7 1126.5,1056.4 1132.5,1055.1 C1139.3,1054 1146.3,1053.8 1153.4,1054.1 C1153.2,1059.5 1152.6,1065 1151.7,1070.4 C1150,1068.8 1148.1,1067.4 1146,1066.3 C1142.5,1064.7 1138.6,1064 1134.5,1063.9 C1130.8,1064.2 1127.2,1064.9 1123.7,1066 C1116.6,1068.4 1109.8,1071.6 1103.4,1075.4 Z" fill="#f7901c" stroke="#7a3a05" stroke-width="0.35"/>
<text transform="translate(1168.3,1082.2) scale(0.82,1)" font-family='"Liberation Sans", "Noto Sans CJK SC", sans-serif' font-size="37.5" font-weight="bold" letter-spacing="36.6">康导新能源</text>
<text transform="translate(1167.50,1110.30) scale(1.0,1)" font-family='"Liberation Sans", "Noto Sans CJK SC", sans-serif' font-size="12.6" font-weight="900" stroke="#000" stroke-width="0.7">网址:</text>
<text transform="translate(1205.00,1109.80) scale(0.99,1)" font-family='"Liberation Sans", sans-serif' font-size="11.2" font-weight="900" stroke="#000" stroke-width="0.7">www.dgconne.com</text>
<text transform="translate(1319.50,1110.30) scale(1.0,1)" font-family='"Liberation Sans", "Noto Sans CJK SC", sans-serif' font-size="12.6" font-weight="900" stroke="#000" stroke-width="0.7">电话:</text>
<text transform="translate(1358.00,1109.80) scale(1.075,1)" font-family='"Liberation Sans", sans-serif' font-size="11.2" font-weight="900" stroke="#000" stroke-width="0.7">0769-86537033</text>
<text transform="translate(1167.50,1127.80) scale(1.0,1)" font-family='"Liberation Sans", "Noto Sans CJK SC", sans-serif' font-size="12.6" font-weight="900" stroke="#000" stroke-width="0.7">邮箱:</text>
<text transform="translate(1205.00,1127.30) scale(0.992,1)" font-family='"Liberation Sans", sans-serif' font-size="11.2" font-weight="900" stroke="#000" stroke-width="0.7">2885178566@qq.com</text>
<text transform="translate(1319.50,1127.80) scale(1.0,1)" font-family='"Liberation Sans", "Noto Sans CJK SC", sans-serif' font-size="12.6" font-weight="900" stroke="#000" stroke-width="0.7">传真:</text>
<text transform="translate(1358.00,1127.30) scale(1.075,1)" font-family='"Liberation Sans", sans-serif' font-size="11.2" font-weight="900" stroke="#000" stroke-width="0.7">0769-86562627</text>
</g>
<defs>
<linearGradient id="sky" x1="0" y1="0" x2="0" y2="1"><stop offset="0" stop-color="#58c3fb"/><stop offset="0.035" stop-color="#7ccbfd"/><stop offset="0.06" stop-color="#9bceff"/><stop offset="0.30" stop-color="#98c8ff"/><stop offset="0.46" stop-color="#94c2fb"/><stop offset="0.475" stop-color="#c6c2ff"/><stop offset="0.60" stop-color="#d0c6ff"/><stop offset="0.675" stop-color="#d6ccff"/><stop offset="0.682" stop-color="#f4f4ff"/><stop offset="0.70" stop-color="#f0fbff"/><stop offset="0.71" stop-color="#c4ffff"/><stop offset="0.85" stop-color="#d2ffff"/><stop offset="0.97" stop-color="#eaffff"/><stop offset="1" stop-color="#ffffff"/></linearGradient>
<filter id="soft" x="-5%" y="-5%" width="110%" height="110%"><feGaussianBlur stdDeviation="0.9"/></filter>
<filter id="soft2" x="-5%" y="-5%" width="110%" height="110%"><feGaussianBlur stdDeviation="1.6"/></filter>
<radialGradient id="hole" cx="0.45" cy="0.5" r="0.5"><stop offset="0" stop-color="#5a1c08"/><stop offset="0.45" stop-color="#6b2a10"/><stop offset="0.62" stop-color="#e0762a"/><stop offset="0.8" stop-color="#f3e4a8"/><stop offset="1" stop-color="#e9e6a0"/></radialGradient>
<linearGradient id="pin" x1="0" y1="0" x2="0" y2="1"><stop offset="0" stop-color="#6f7d79"/><stop offset="0.5" stop-color="#98a3a1"/><stop offset="1" stop-color="#d4dcdc"/></linearGradient>
</defs>
<g id="photo">
<rect x="733.4" y="139" width="382.4" height="226.5" fill="url(#sky)"/>
<g filter="url(#soft)">
<rect x="833.7" y="298.5" width="8.4" height="20.6" rx="2.5" fill="url(#pin)"/>
<rect x="866.4" y="303.5" width="10.3" height="20.3" rx="2.5" fill="url(#pin)"/>
<rect x="903.8" y="309.5" width="10.3" height="19.0" rx="2.5" fill="url(#pin)"/>
<rect x="940.6" y="315.5" width="8.4" height="18.6" rx="2.5" fill="url(#pin)"/>
<rect x="979.8" y="321.5" width="8.4" height="18.2" rx="2.5" fill="url(#pin)"/>
<rect x="1014.4" y="328" width="8.4" height="18.2" rx="2.5" fill="url(#pin)"/>
<path d="M777.5,186.5 L811,190.5 L811,240.5 L795,240 L780.5,237 L768.3,223 Z" fill="#1f9657"/>
<path d="M768.3,223 L780.5,237 L795,240 L795,231 L779,226 Z" fill="#157a45"/>
<path d="M1043.5,222.5 L1066,228.5 Q1072,230.5 1074,235 L1078.5,243.5 L1071.8,284 L1058.3,279 L1040,268 Z" fill="#1f9657"/>
<path d="M1078.5,243.5 L1071.8,284 L1064,281 L1070,240 Z" fill="#178049"/>
<path d="M1030.3,264 L1060,272 L1071.8,284 L1050,292 L1022,333 L1020.9,331.3 Z" fill="#1e9a59"/>
<path d="M1032,271 L1062,274 L1040,296 L1032,294 Z" fill="#2b5e58"/>
<path d="M812.2,182.7 L1039,214.6 Q1044,215.6 1045,221 L1045.5,268 L1030.3,264 L795.4,239.7 L811,237 Z" fill="#1f8f52"/>
<path d="M815,190 L1028,221 L1028,258 L813,233 Z" fill="#2f6650"/>
<path d="M814,200 L836,203 L836,225 L814,222 Z" fill="#2a4d45"/>
<path d="M817,210 L829,212 L829,223 L817,221 Z" fill="#24332f"/>
<path d="M850,206 L872,209 L872,231 L850,228 Z" fill="#2a4d45"/>
<path d="M853,216 L865,218 L865,229 L853,227 Z" fill="#24332f"/>
<path d="M886,212 L908,215 L908,237 L886,234 Z" fill="#2a4d45"/>
<path d="M889,222 L901,224 L901,235 L889,233 Z" fill="#24332f"/>
<path d="M923,217.5 L945,220.5 L945,242.5 L923,239.5 Z" fill="#2a4d45"/>
<path d="M926,227.5 L938,229.5 L938,240.5 L926,238.5 Z" fill="#24332f"/>
<path d="M959,223 L981,226 L981,248 L959,245 Z" fill="#2a4d45"/>
<path d="M962,233 L974,235 L974,246 L962,244 Z" fill="#24332f"/>
<path d="M994,228.5 L1016,231.5 L1016,253.5 L994,250.5 Z" fill="#2a4d45"/>
<path d="M997,238.5 L1009,240.5 L1009,251.5 L997,249.5 Z" fill="#24332f"/>
<path d="M839,190 L845,191 L845,233 L839,232 Z" fill="#1f8f52"/>
<path d="M875,195.5 L881,196.5 L881,238.5 L875,237.5 Z" fill="#1f8f52"/>
<path d="M911,201 L917,202 L917,244 L911,243 Z" fill="#1f8f52"/>
<path d="M947.5,206.5 L953.5,207.5 L953.5,249.5 L947.5,248.5 Z" fill="#1f8f52"/>
<path d="M983.5,212 L989.5,213 L989.5,255 L983.5,254 Z" fill="#1f8f52"/>
<path d="M795.4,239.7 L1030.3,264 L1020.9,331.3 L789.8,293.9 Z" fill="#34a067"/>
<path d="M789.8,293.9 L1020.9,331.3 L1020.5,334.5 L791,297.5 Z" fill="#1d8a50"/>
</g>
<g filter="url(#soft)">
<ellipse cx="788.9" cy="207.9" rx="13" ry="13.6" fill="url(#hole)"/>
<ellipse cx="1049.9" cy="246.2" rx="14.2" ry="14.4" fill="url(#hole)"/>
<circle cx="828.1" cy="215.4" r="2.6" fill="#eef3d8"/>
<circle cx="866.4" cy="221.4" r="2.6" fill="#eef3d8"/>
<circle cx="902" cy="226.6" r="2.6" fill="#eef3d8"/>
<circle cx="938.7" cy="232.2" r="2.6" fill="#eef3d8"/>
<circle cx="973.3" cy="236.9" r="2.6" fill="#eef3d8"/>
<circle cx="1012.5" cy="243" r="2.6" fill="#eef3d8"/>
</g>
</g>
</svg>
</body></html>
